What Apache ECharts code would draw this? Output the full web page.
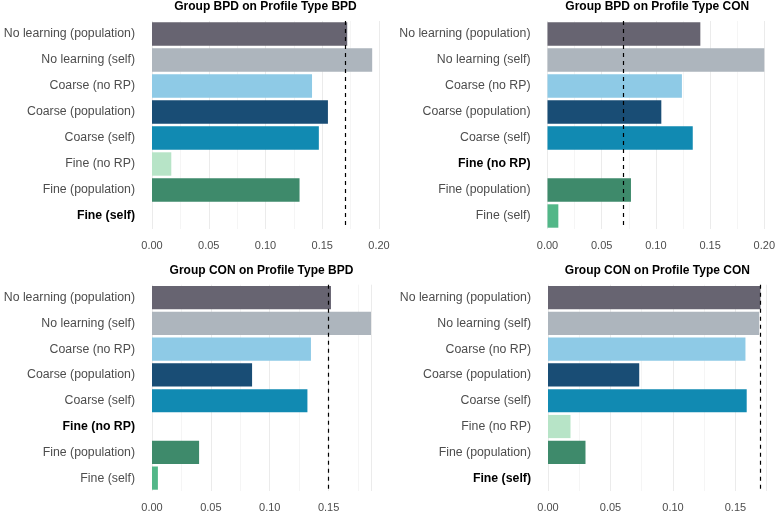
<!DOCTYPE html>
<html>
<head>
<meta charset="utf-8">
<script src="https://cdn.jsdelivr.net/npm/echarts@6/dist/echarts.min.js"></script>
<style>
  html, body { margin: 0; padding: 0; background: #fff; }
  #chart { width: 778px; height: 513px; }
</style>
</head>
<body>
<div id="chart"></div>
<script>
// categories, top to bottom
const categories = [
  'No learning (population)', 'No learning (self)', 'Coarse (no RP)',
  'Coarse (population)', 'Coarse (self)', 'Fine (no RP)',
  'Fine (population)', 'Fine (self)'
];

// values, one array per panel
const bpdOnBpd = [0.172, 0.194, 0.141, 0.155, 0.147, 0.017, 0.130, 0];
const bpdOnCon = [0.141, 0.200, 0.124, 0.105, 0.134, 0, 0.077, 0.010];
const conOnBpd = [0.152, 0.186, 0.135, 0.085, 0.132, 0, 0.040, 0.005];
const conOnCon = [0.170, 0.169, 0.158, 0.073, 0.159, 0.018, 0.030, 0];

// dashed reference line per panel
const refLines = [0.173, 0.0725, 0.1525, 0.175];
// highlighted (bold) category per panel
const boldCats = ['Fine (self)', 'Fine (no RP)', 'Fine (no RP)', 'Fine (self)'];
const titles = [
  'Group BPD on Profile Type BPD', 'Group BPD on Profile Type CON',
  'Group CON on Profile Type BPD', 'Group CON on Profile Type CON'
];
const xTicks = [0, 0.05, 0.1, 0.15, 0.2];
const xMax = [0.2, 0.2, 0.186, 0.175];

const panelValues = [bpdOnBpd, bpdOnCon, conOnBpd, conOnCon];

// styles
const palette = ['#676471', '#adb5bd', '#8ecae6', '#194d75', '#118ab2', '#b7e4c7', '#3e8a6b', '#52b788'];
const FONT = '"Liberation Sans", Arial, sans-serif';
// panel boxes in px: left, top, width, height
const boxes = [
  [152, 21, 227, 208],
  [547.5, 21, 219.5, 208],
  [152, 284.7, 219, 208],
  [548, 284.7, 218.7, 208]
];

const chart = echarts.init(document.getElementById('chart'), null, { renderer: 'canvas' });

const grid = [], xAxis = [], yAxis = [], series = [], title = [];

panelValues.forEach((vals, i) => {
  const [l, t, w, h] = boxes[i];
  grid.push({ left: l, top: t, width: w, height: h, containLabel: false });
  title.push({
    text: titles[i],
    left: l + w / 2,
    top: t - 20,
    textAlign: 'center',
    padding: 0,
    textStyle: { fontFamily: FONT, fontSize: 12, fontWeight: 'bold', color: '#000' }
  });
  xAxis.push({
    type: 'value',
    gridIndex: i,
    min: 0,
    max: xMax[i],
    interval: 0.05,
    axisLine: { show: false },
    axisTick: { show: false },
    axisLabel: {
      margin: 11,
      color: '#4d4d4d',
      fontFamily: FONT,
      fontSize: 11,
      formatter: v => xTicks.some(t => Math.abs(t - v) < 1e-9) ? v.toFixed(2) : ''
    },
    splitLine: { show: true, lineStyle: { color: '#ebebeb', width: 1 } },
    minorTick: { show: false, splitNumber: 2 },
    minorSplitLine: { show: true, lineStyle: { color: '#f2f2f2', width: 0.8 } }
  });
  yAxis.push({
    type: 'category',
    gridIndex: i,
    data: categories,
    inverse: true,
    axisLine: { show: false },
    axisTick: { show: false },
    splitLine: { show: false },
    axisLabel: {
      margin: 17,
      formatter: v => (v === boldCats[i] ? '{b|' + v + '}' : '{n|' + v + '}'),
      rich: {
        n: { fontFamily: FONT, fontSize: 12.3, color: '#4d4d4d' },
        b: { fontFamily: FONT, fontSize: 12.3, color: '#000', fontWeight: 'bold' }
      }
    }
  });
  series.push({
    type: 'bar',
    xAxisIndex: i,
    yAxisIndex: i,
    data: vals,
    barWidth: '90%',
    itemStyle: { color: p => palette[p.dataIndex] },
    markLine: {
      silent: true,
      symbol: ['none', 'none'],
      label: { show: false },
      lineStyle: { color: '#000', type: [4, 4], width: 1.2 },
      data: [{ xAxis: refLines[i] }]
    }
  });
});

chart.setOption({
  animation: false,
  backgroundColor: '#fff',
  title,
  grid,
  xAxis,
  yAxis,
  series
});
</script>
</body>
</html>
